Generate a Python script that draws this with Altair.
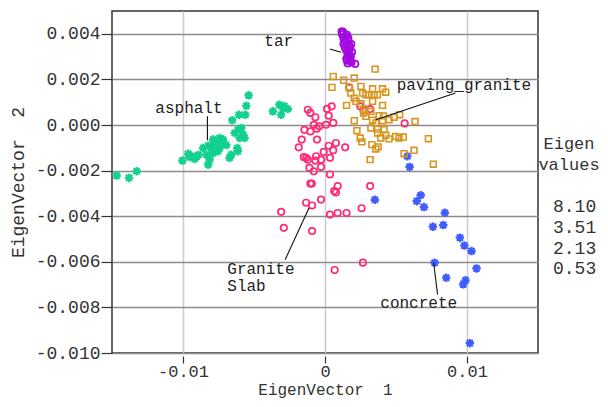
import altair as alt
import pandas as pd

# ---------------- data ----------------
asphalt_x = [-0.01467, -0.0138, -0.01326, -0.01004, -0.00964, -0.0094, -0.00919, -0.00954, -0.00905,
             -0.00858, -0.00823, -0.00835, -0.00812, -0.00823, -0.00788, -0.00753, -0.00788, -0.00742,
             -0.00718, -0.00765, -0.00777, -0.00742, -0.00672, -0.0066, -0.00618, -0.00613, -0.00636,
             -0.00613, -0.00589, -0.00578, -0.00566, -0.00601, -0.00653, -0.00606, -0.00561, -0.00554,
             -0.00538, -0.00367, -0.00321, -0.00297, -0.00262, -0.00309, -0.00286, -0.00716, -0.00695,
             -0.008, -0.00786, -0.00891]
asphalt_y = [-0.00222, -0.00232, -0.00203, -0.00156, -0.00126, -0.00136, -0.00149, -0.0014, -0.0014,
             -0.00101, -0.00091, -0.0013, -0.00152, -0.00174, -0.00123, -0.00115, -0.00064, -0.00057,
             -0.00064, -0.00086, -0.00076, -0.00101, -0.00144, -0.0013, -0.00101, -0.00115, -0.00035,
             -0.00021, -0.00013, -0.00042, -0.00057, -0.00057, 0.00021, 0.00045, 0.00045, 0.00084,
             0.0013, 0.0006, 0.00089, 0.00074, 0.0007, 0.00045, 0.00083, -0.00079, -0.00088,
             -0.00101, -0.00092, -0.00131]

tar_x = [0.00117, 0.00131, 0.00147, 0.00164, 0.00135, 0.00159, 0.00178, 0.00147, 0.00171, 0.00159,
         0.00182, 0.00171, 0.00187, 0.00213, 0.0012, 0.0014, 0.0015, 0.0016, 0.0017, 0.0015,
         0.0018, 0.0016, 0.0013, 0.0019, 0.00125, 0.00145, 0.0017, 0.0014, 0.00175,
         0.00155, 0.00165, 0.00185, 0.0013, 0.0016, 0.00175, 0.00155]
tar_y = [0.0041, 0.00403, 0.00388, 0.00381, 0.00366, 0.00351, 0.00341, 0.0033, 0.00323, 0.00308,
         0.00301, 0.00286, 0.00274, 0.00268, 0.00398, 0.0039, 0.0036, 0.0034, 0.0031, 0.0029,
         0.0028, 0.0027, 0.0038, 0.0032, 0.0041, 0.00375, 0.0035, 0.0034, 0.0030,
         0.00395, 0.00368, 0.00355, 0.00355, 0.00318, 0.00292, 0.00282]

paving_x = [0.00353, 0.00058, 0.00049, 0.00131, 0.00206, 0.00171, 0.00182, 0.00253, 0.00265, 0.00335,
            0.00405, 0.00428, 0.00288, 0.00311, 0.00346, 0.0037, 0.00206, 0.00218, 0.00152, 0.00253,
            0.00335, 0.00405, 0.00276, 0.00272, 0.00288, 0.00323, 0.00381, 0.00335, 0.00358, 0.00206,
            0.00405, 0.00451, 0.00486, 0.00526, 0.00634, 0.00323, 0.0037, 0.00416, 0.00225, 0.0037,
            0.00393, 0.00451, 0.00498, 0.00521, 0.00552, 0.00248, 0.0026, 0.0033, 0.00358, 0.00374,
            0.00728, 0.00627, 0.00557, 0.00318, 0.00763, 0.00412, 0.00428]
paving_y = [0.00245, 0.00213, 0.00165, 0.00196, 0.00206, 0.00162, 0.0014, 0.00169, 0.0014, 0.00159,
            0.00159, 0.00144, 0.00133, 0.00133, 0.00133, 0.00133, 0.00118, 0.00104, 0.00086, 0.00093,
            0.00104, 0.00086, 0.0007, 0.00053, 0.00038, 0.0006, 0.00041, 0.00021, 0.00009, 0.00019,
            0.00019, 0.00023, 0.00034, 0.00045, 0.00015, -0.00013, -0.00018, -0.0002, -0.00025, -0.00035,
            -0.00057, -0.00061, -0.0005, -0.00057, -0.00053, -0.00057, -0.00074, -0.00086, -0.00105, -0.00096,
            -0.0006, -0.00111, -0.00126, -0.00152, -0.00172, 0.0004, -0.00045]

granite_x = [-0.00121, -0.00103, -0.00068, 0.00014, 0.00047, 0.00026, -0.00079, -0.00145, -0.00103, -0.0004,
             0.00007, 0.00058, -0.00164, -0.00056, -0.00185, 0.00026, 0.00077, 0.00142, -0.00009, 0.00058,
             -0.00149, -0.00133, -0.00121, -0.00063, -0.00068, -0.00028, 0.00035, -0.0011, -0.00028, -0.00079,
             0.00035, -0.00103, -0.00093, 0.00089, 0.00065, 0.00077, 0.00318, -0.00133, -0.00091, -0.00028,
             -0.00309, 0.00035, 0.00089, 0.00152, 0.00258, -0.0029, -0.00091, 0.00267, 0.00068, 0.00248,
             0.00272, 0.00318, 0.00171, 0.00561, -0.00058]
granite_y = [0.00067, 0.00053, 0.00034, 0.00071, 0.00082, 0.00041, 0.00001, -0.00021, -0.00028, -0.00006,
             0.00001, 0.00009, -0.00064, -0.00064, -0.00098, -0.00091, -0.00079, -0.00098, -0.00118, -0.00111,
             -0.00141, -0.00144, -0.00152, -0.00137, -0.00156, -0.00152, -0.00144, -0.00188, -0.00184, -0.00203,
             -0.00217, -0.00257, -0.00257, -0.00268, -0.0029, -0.00296, -0.00268, -0.00341, -0.00353, -0.00327,
             -0.00381, -0.00393, -0.00386, -0.00386, -0.00365, -0.00451, -0.00465, -0.00604, -0.00636, 0.00082,
             0.00064, 0.0007, 0.00165, 0.00007, -0.00016]

concrete_x = [0.00351, 0.0058, 0.00596, 0.00674, 0.00646, 0.00697, 0.00844, 0.0076, 0.00833, 0.0095,
              0.00982, 0.01032, 0.00772, 0.01067, 0.00854, 0.0099, 0.00973, 0.0102]
concrete_y = [-0.00328, -0.00137, -0.00184, -0.00308, -0.00334, -0.0036, -0.00385, -0.00446, -0.00439, -0.00494,
              -0.00529, -0.00553, -0.00604, -0.00629, -0.0067, -0.00681, -0.00699, -0.00957]

# annotation labels and leader lines (data coordinates)
label_text = ["tar", "asphalt", "paving_granite", "concrete"]
label_x = [-0.00326, -0.00958, 0.00978, 0.0066]
label_y = [0.00369, 0.00074, 0.00176, -0.00779]

slab_text = ["Granite", "Slab"]
slab_x = [-0.00688, -0.00688]
slab_y = [-0.00633, -0.00706]

leader_x = [0.00035, -0.00828, 0.00358, -0.00281, 0.00765]
leader_y = [0.00333, 0.00038, 0.00023, -0.00591, -0.00604]
leader_x2 = [0.00112, -0.00828, 0.00919, -0.00112, 0.00793]
leader_y2 = [0.00319, -0.00067, 0.0014, -0.00363, -0.00744]

eigen_values = [8.10, 3.51, 2.13, 0.53]

x_ticks = [-0.01, 0.0, 0.01]
y_ticks = [-0.010, -0.009, -0.008, -0.007, -0.006, -0.005, -0.004, -0.003, -0.002, -0.001,
           0.000, 0.001, 0.002, 0.003, 0.004]

materials = ["asphalt", "tar", "paving_granite", "Granite Slab", "concrete"]
colors = ["#12d18e", "#a40be0", "#d8961f", "#ff2a78", "#3e5cff"]

# ---------------- build tables ----------------
rows = []
for name, xs, ys in [("asphalt", asphalt_x, asphalt_y), ("tar", tar_x, tar_y),
                     ("paving_granite", paving_x, paving_y), ("Granite Slab", granite_x, granite_y),
                     ("concrete", concrete_x, concrete_y)]:
    for a, b in zip(xs, ys):
        rows.append({"material": name, "ev1": a, "ev2": b})
pts = pd.DataFrame(rows)

FONT = "Liberation Mono"
TXT = "#333333"
NB = "\u00a0"

xscale = alt.Scale(domain=[-0.015, 0.015], nice=False, zero=False)
yscale = alt.Scale(domain=[-0.010, 0.005], nice=False, zero=False)
cscale = alt.Scale(domain=materials, range=colors)

even = "abs(round(datum.value*1000)) % 2 == 0"

xaxis = alt.Axis(values=x_ticks, title="EigenVector" + NB + NB + "1", grid=True, gridColor="#cccccc", gridWidth=1.5,
                 domain=False, offset=3, tickSize=7, tickColor=TXT, tickWidth=1.2,
                 labelPadding=0, labelFont=FONT, labelFontSize=17, labelColor=TXT,
                 labelExpr="datum.value == 0 ? '0' : replace(format(datum.value, '.2f'), '\u2212', '-')",
                 titleFont=FONT, titleFontSize=16, titleFontWeight="normal", titleColor=TXT,
                 titleBaseline="alphabetic", titleY=38)
yaxis = alt.Axis(values=y_ticks, title="EigenVector" + NB + NB + "2", grid=True,
                 gridColor={"condition": {"test": even, "value": "#8c8c8c"}, "value": "#cfcfcf"},
                 gridWidth=1.5,
                 domain=False, tickSize=11, tickColor=TXT, tickWidth=1.2,
                 tickOpacity={"condition": {"test": even, "value": 1}, "value": 0},
                 labelPadding=1, labelFont=FONT, labelFontSize=18, labelColor=TXT,
                 labelExpr=even + " ? replace(format(datum.value, '.3f'), '\u2212', '-') : ''",
                 titleFont=FONT, titleFontSize=18, titleFontWeight="normal", titleColor=TXT,
                 titlePadding=8)

base = alt.Chart(pts)
enc = dict(x=alt.X("ev1:Q", scale=xscale, axis=xaxis),
           y=alt.Y("ev2:Q", scale=yscale, axis=yaxis),
           color=alt.Color("material:N", scale=cscale, legend=None))

asterisk = "M-1,0L1,0M0,-1L0,1M-0.72,-0.72L0.72,0.72M-0.72,0.72L0.72,-0.72"

stars = base.transform_filter(
    alt.FieldOneOfPredicate(field="material", oneOf=["asphalt", "concrete"])
).mark_point(shape=asterisk, size=72, strokeWidth=2.2, filled=False, opacity=1).encode(**enc)

circles = base.transform_filter(
    alt.FieldOneOfPredicate(field="material", oneOf=["tar", "Granite Slab"])
).mark_point(shape="circle", size=42, strokeWidth=1.7, filled=False, opacity=1).encode(**enc)

squares = base.transform_filter(
    alt.FieldOneOfPredicate(field="material", oneOf=["paving_granite"])
).mark_point(shape="square", size=34, strokeWidth=1.6, filled=False, opacity=1).encode(**enc)

leaders = alt.Chart(pd.DataFrame({"x": leader_x, "y": leader_y, "x2": leader_x2, "y2": leader_y2})).mark_rule(
    color="#111111", strokeWidth=1.1
).encode(x=alt.X("x:Q", scale=xscale), y=alt.Y("y:Q", scale=yscale), x2="x2:Q", y2="y2:Q")

labels = alt.Chart(pd.DataFrame({"t": label_text, "x": label_x, "y": label_y})).mark_text(
    font=FONT, fontSize=16, color="#222222", align="center", baseline="middle"
).encode(x=alt.X("x:Q", scale=xscale), y=alt.Y("y:Q", scale=yscale), text="t:N")

slab = alt.Chart(pd.DataFrame({"t": slab_text, "x": slab_x, "y": slab_y})).mark_text(
    font=FONT, fontSize=16, color="#222222", align="left", baseline="middle"
).encode(x=alt.X("x:Q", scale=xscale), y=alt.Y("y:Q", scale=yscale), text="t:N")

eig_title = alt.Chart(pd.DataFrame({"t": ["Eigen\nvalues"]})).mark_text(
    font=FONT, fontSize=17, color=TXT, align="center", baseline="alphabetic", lineBreak="\n", lineHeight=21
).encode(x=alt.value(457), y=alt.value(138), text="t:N")

eig_vals = alt.Chart(pd.DataFrame({"t": ["\n".join(f"{v:.2f}" for v in eigen_values)]})).mark_text(
    font=FONT, fontSize=18, color=TXT, align="left", baseline="alphabetic", lineBreak="\n", lineHeight=20.8
).encode(x=alt.value(441), y=alt.value(201), text="t:N")

chart = alt.layer(stars, circles, squares, leaders, labels, slab, eig_title, eig_vals).properties(
    width=426, height=342,
    autosize=alt.AutoSizeParams(type="none"),
    padding={"left": 104, "top": 3, "right": 62, "bottom": 46},
).configure(background="white").configure_view(stroke="#333333", strokeWidth=1.5)

chart.save("out.html", embed_options={"renderer": "svg", "actions": False})
